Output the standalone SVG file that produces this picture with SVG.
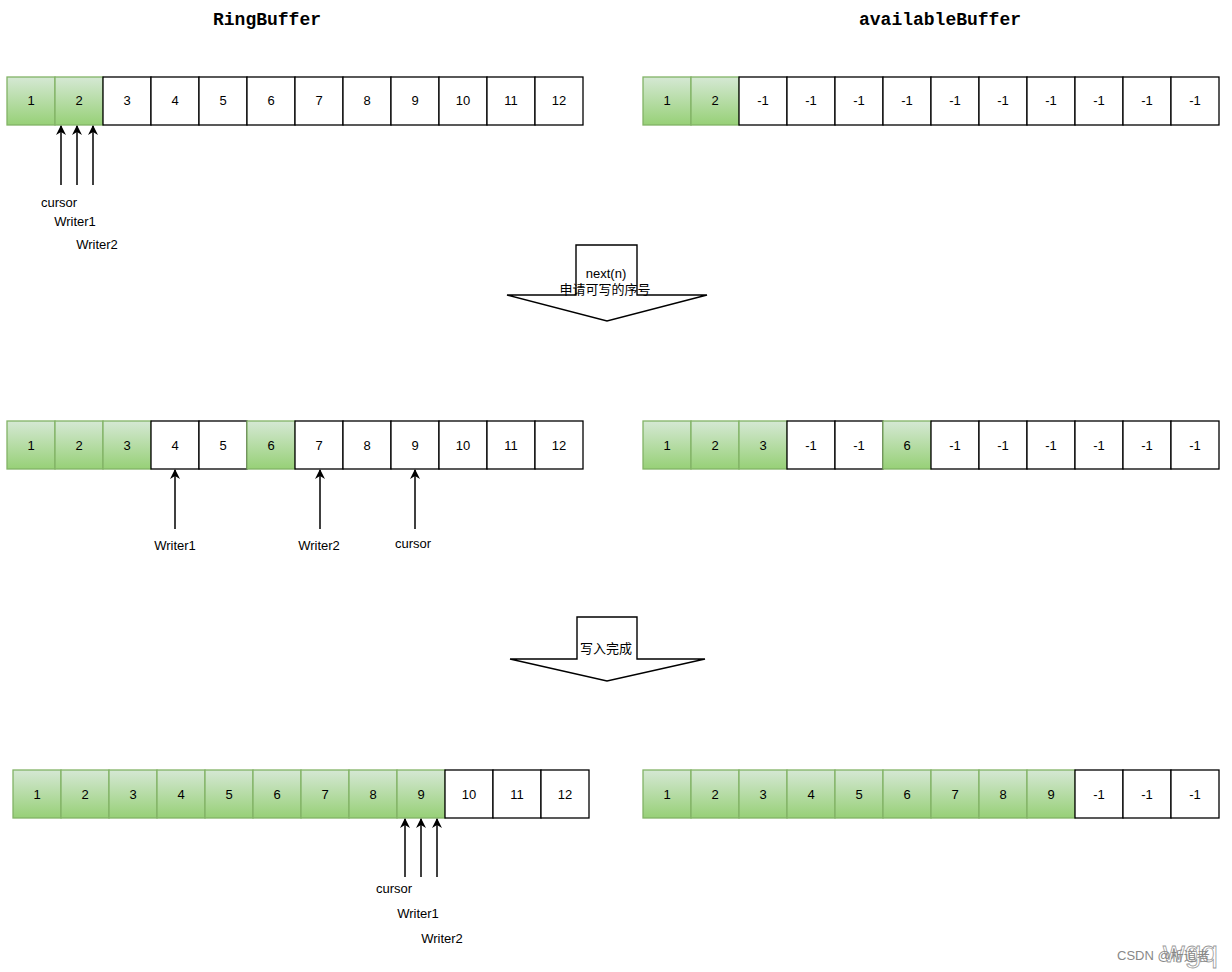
<svg xmlns="http://www.w3.org/2000/svg" width="1232" height="972" viewBox="0 0 1232 972">
<defs>
<linearGradient id="g" x1="0" y1="0" x2="0" y2="1">
<stop offset="0" stop-color="#d5e8d4"/>
<stop offset="1" stop-color="#97d077"/>
</linearGradient>
<marker id="ah" viewBox="0 0 10 10" refX="9" refY="5" markerWidth="11" markerHeight="10" markerUnits="userSpaceOnUse" orient="auto">
<path d="M0,0 L10,5 L0,10 L3,5 Z" fill="#000"/>
</marker>
</defs>
<style>
.w{fill:#fff;stroke:#000;stroke-width:1.3}
.gc{fill:url(#g);stroke:#82b366;stroke-width:1.3}
.t{font-family:"Liberation Sans",Arial,sans-serif;font-size:13px;fill:#000;text-anchor:middle}
.title{font-family:"Liberation Mono","Courier New",monospace;font-size:18px;font-weight:bold;text-anchor:middle}
.cjk{font-family:"Liberation Sans","Noto Sans CJK SC",sans-serif;font-size:13px;text-anchor:middle}
.conn{stroke:#000;stroke-width:1.5;fill:none;marker-end:url(#ah)}
.blk{fill:#fff;stroke:#000;stroke-width:1.4}
</style>
<rect width="1232" height="972" fill="#fff"/>
<text class="title" x="267" y="25">RingBuffer</text>
<text class="title" x="940" y="25">availableBuffer</text>

<g id="rb1">
<rect class="gc" x="7" y="77" width="48" height="48"/><text class="t" x="31" y="105">1</text>
<rect class="gc" x="55" y="77" width="48" height="48"/><text class="t" x="79" y="105">2</text>
<rect class="w" x="103" y="77" width="48" height="48"/><text class="t" x="127" y="105">3</text>
<rect class="w" x="151" y="77" width="48" height="48"/><text class="t" x="175" y="105">4</text>
<rect class="w" x="199" y="77" width="48" height="48"/><text class="t" x="223" y="105">5</text>
<rect class="w" x="247" y="77" width="48" height="48"/><text class="t" x="271" y="105">6</text>
<rect class="w" x="295" y="77" width="48" height="48"/><text class="t" x="319" y="105">7</text>
<rect class="w" x="343" y="77" width="48" height="48"/><text class="t" x="367" y="105">8</text>
<rect class="w" x="391" y="77" width="48" height="48"/><text class="t" x="415" y="105">9</text>
<rect class="w" x="439" y="77" width="48" height="48"/><text class="t" x="463" y="105">10</text>
<rect class="w" x="487" y="77" width="48" height="48"/><text class="t" x="511" y="105">11</text>
<rect class="w" x="535" y="77" width="48" height="48"/><text class="t" x="559" y="105">12</text>
</g>
<g id="ab1">
<rect class="gc" x="643" y="77" width="48" height="48"/><text class="t" x="667" y="105">1</text>
<rect class="gc" x="691" y="77" width="48" height="48"/><text class="t" x="715" y="105">2</text>
<rect class="w" x="739" y="77" width="48" height="48"/><text class="t" x="763" y="105">-1</text>
<rect class="w" x="787" y="77" width="48" height="48"/><text class="t" x="811" y="105">-1</text>
<rect class="w" x="835" y="77" width="48" height="48"/><text class="t" x="859" y="105">-1</text>
<rect class="w" x="883" y="77" width="48" height="48"/><text class="t" x="907" y="105">-1</text>
<rect class="w" x="931" y="77" width="48" height="48"/><text class="t" x="955" y="105">-1</text>
<rect class="w" x="979" y="77" width="48" height="48"/><text class="t" x="1003" y="105">-1</text>
<rect class="w" x="1027" y="77" width="48" height="48"/><text class="t" x="1051" y="105">-1</text>
<rect class="w" x="1075" y="77" width="48" height="48"/><text class="t" x="1099" y="105">-1</text>
<rect class="w" x="1123" y="77" width="48" height="48"/><text class="t" x="1147" y="105">-1</text>
<rect class="w" x="1171" y="77" width="48" height="48"/><text class="t" x="1195" y="105">-1</text>
</g>

<g id="rb2">
<rect class="gc" x="7" y="421" width="48" height="48"/><text class="t" x="31" y="450">1</text>
<rect class="gc" x="55" y="421" width="48" height="48"/><text class="t" x="79" y="450">2</text>
<rect class="gc" x="103" y="421" width="48" height="48"/><text class="t" x="127" y="450">3</text>
<rect class="w" x="151" y="421" width="48" height="48"/><text class="t" x="175" y="450">4</text>
<rect class="w" x="199" y="421" width="48" height="48"/><text class="t" x="223" y="450">5</text>
<rect class="gc" x="247" y="421" width="48" height="48"/><text class="t" x="271" y="450">6</text>
<rect class="w" x="295" y="421" width="48" height="48"/><text class="t" x="319" y="450">7</text>
<rect class="w" x="343" y="421" width="48" height="48"/><text class="t" x="367" y="450">8</text>
<rect class="w" x="391" y="421" width="48" height="48"/><text class="t" x="415" y="450">9</text>
<rect class="w" x="439" y="421" width="48" height="48"/><text class="t" x="463" y="450">10</text>
<rect class="w" x="487" y="421" width="48" height="48"/><text class="t" x="511" y="450">11</text>
<rect class="w" x="535" y="421" width="48" height="48"/><text class="t" x="559" y="450">12</text>
</g>
<g id="ab2">
<rect class="gc" x="643" y="421" width="48" height="48"/><text class="t" x="667" y="450">1</text>
<rect class="gc" x="691" y="421" width="48" height="48"/><text class="t" x="715" y="450">2</text>
<rect class="gc" x="739" y="421" width="48" height="48"/><text class="t" x="763" y="450">3</text>
<rect class="w" x="787" y="421" width="48" height="48"/><text class="t" x="811" y="450">-1</text>
<rect class="w" x="835" y="421" width="48" height="48"/><text class="t" x="859" y="450">-1</text>
<rect class="gc" x="883" y="421" width="48" height="48"/><text class="t" x="907" y="450">6</text>
<rect class="w" x="931" y="421" width="48" height="48"/><text class="t" x="955" y="450">-1</text>
<rect class="w" x="979" y="421" width="48" height="48"/><text class="t" x="1003" y="450">-1</text>
<rect class="w" x="1027" y="421" width="48" height="48"/><text class="t" x="1051" y="450">-1</text>
<rect class="w" x="1075" y="421" width="48" height="48"/><text class="t" x="1099" y="450">-1</text>
<rect class="w" x="1123" y="421" width="48" height="48"/><text class="t" x="1147" y="450">-1</text>
<rect class="w" x="1171" y="421" width="48" height="48"/><text class="t" x="1195" y="450">-1</text>
</g>

<g id="rb3">
<rect class="gc" x="13" y="770" width="48" height="48"/><text class="t" x="37" y="799">1</text>
<rect class="gc" x="61" y="770" width="48" height="48"/><text class="t" x="85" y="799">2</text>
<rect class="gc" x="109" y="770" width="48" height="48"/><text class="t" x="133" y="799">3</text>
<rect class="gc" x="157" y="770" width="48" height="48"/><text class="t" x="181" y="799">4</text>
<rect class="gc" x="205" y="770" width="48" height="48"/><text class="t" x="229" y="799">5</text>
<rect class="gc" x="253" y="770" width="48" height="48"/><text class="t" x="277" y="799">6</text>
<rect class="gc" x="301" y="770" width="48" height="48"/><text class="t" x="325" y="799">7</text>
<rect class="gc" x="349" y="770" width="48" height="48"/><text class="t" x="373" y="799">8</text>
<rect class="gc" x="397" y="770" width="48" height="48"/><text class="t" x="421" y="799">9</text>
<rect class="w" x="445" y="770" width="48" height="48"/><text class="t" x="469" y="799">10</text>
<rect class="w" x="493" y="770" width="48" height="48"/><text class="t" x="517" y="799">11</text>
<rect class="w" x="541" y="770" width="48" height="48"/><text class="t" x="565" y="799">12</text>
</g>
<g id="ab3">
<rect class="gc" x="643" y="770" width="48" height="48"/><text class="t" x="667" y="799">1</text>
<rect class="gc" x="691" y="770" width="48" height="48"/><text class="t" x="715" y="799">2</text>
<rect class="gc" x="739" y="770" width="48" height="48"/><text class="t" x="763" y="799">3</text>
<rect class="gc" x="787" y="770" width="48" height="48"/><text class="t" x="811" y="799">4</text>
<rect class="gc" x="835" y="770" width="48" height="48"/><text class="t" x="859" y="799">5</text>
<rect class="gc" x="883" y="770" width="48" height="48"/><text class="t" x="907" y="799">6</text>
<rect class="gc" x="931" y="770" width="48" height="48"/><text class="t" x="955" y="799">7</text>
<rect class="gc" x="979" y="770" width="48" height="48"/><text class="t" x="1003" y="799">8</text>
<rect class="gc" x="1027" y="770" width="48" height="48"/><text class="t" x="1051" y="799">9</text>
<rect class="w" x="1075" y="770" width="48" height="48"/><text class="t" x="1099" y="799">-1</text>
<rect class="w" x="1123" y="770" width="48" height="48"/><text class="t" x="1147" y="799">-1</text>
<rect class="w" x="1171" y="770" width="48" height="48"/><text class="t" x="1195" y="799">-1</text>
</g>

<g id="connectors">
<line class="conn" x1="61" y1="185" x2="61" y2="126"/>
<line class="conn" x1="77" y1="185" x2="77" y2="126"/>
<line class="conn" x1="93" y1="185" x2="93" y2="126"/>
<line class="conn" x1="175" y1="529" x2="175" y2="470"/>
<line class="conn" x1="320" y1="529" x2="320" y2="470"/>
<line class="conn" x1="415" y1="529" x2="415" y2="470"/>
<line class="conn" x1="405" y1="877" x2="405" y2="819"/>
<line class="conn" x1="421" y1="877" x2="421" y2="819"/>
<line class="conn" x1="437" y1="877" x2="437" y2="819"/>
</g>

<g id="labels1">
<text class="t" x="59" y="207">cursor</text>
<text class="t" x="75" y="226">Writer1</text>
<text class="t" x="97" y="249">Writer2</text>
</g>
<g id="labels2">
<text class="t" x="175" y="550">Writer1</text>
<text class="t" x="319" y="550">Writer2</text>
<text class="t" x="413" y="548">cursor</text>
</g>
<g id="labels3">
<text class="t" x="394" y="893">cursor</text>
<text class="t" x="418" y="918">Writer1</text>
<text class="t" x="442" y="943">Writer2</text>
</g>

<g id="step1">
<polygon class="blk" points="576,295 576,245 637,245 637,295 707,295 607,321 507,295"/>
<text class="t" x="606" y="278">next(n)</text>
<text class="cjk" x="605" y="294">申请可写的序号</text>
</g>
<g id="step2">
<polygon class="blk" points="577,659 577,617 637,617 637,659 705,659 607,681 510,659"/>
<text class="cjk" x="606" y="653">写入完成</text>
</g>

<g id="watermark">
<text x="1163" y="962" font-family="'Liberation Sans',sans-serif" font-size="30" fill="#fff" stroke="#9a9a9a" stroke-width="0.8">wgq</text>
<text x="1117" y="960" font-family="'Liberation Sans','Noto Sans CJK SC',sans-serif" font-size="13" fill="#888">CSDN @析道者</text>
</g>
</svg>
